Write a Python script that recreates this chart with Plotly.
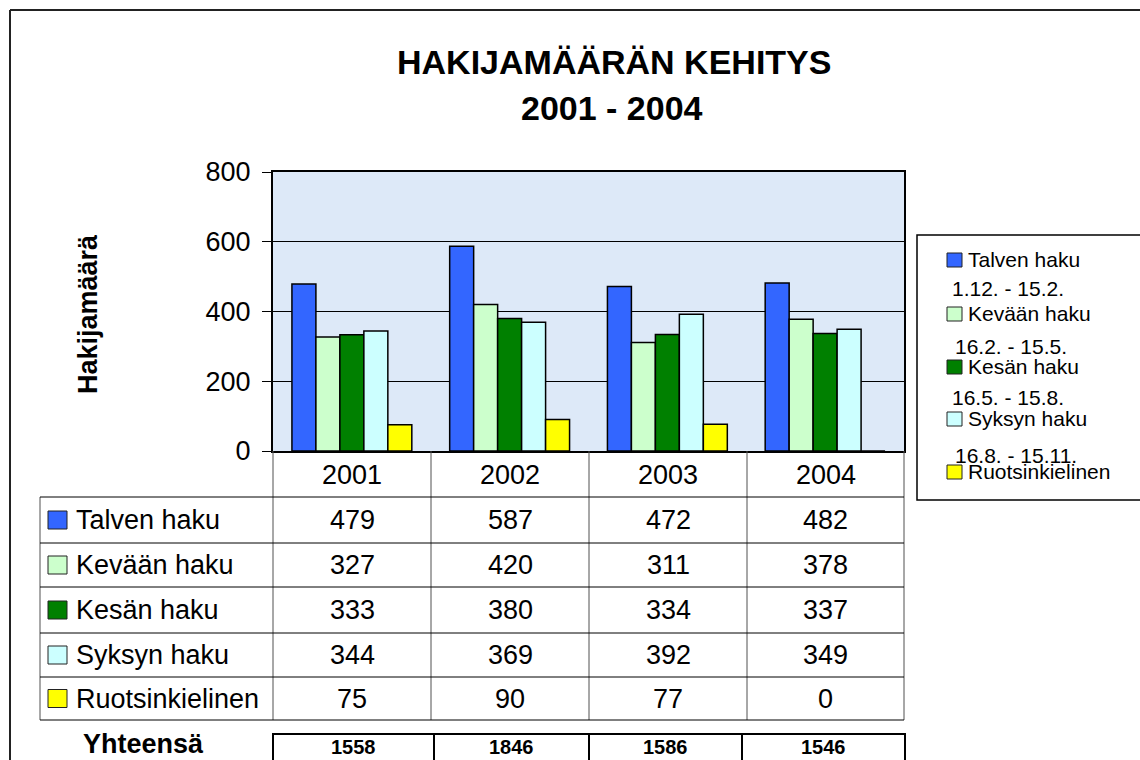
import plotly.graph_objects as go

W, H = 1140, 760

# ---------------- data ----------------
years = ["2001", "2002", "2003", "2004"]
series_names = ["Talven haku", "Kevään haku", "Kesän haku", "Syksyn haku", "Ruotsinkielinen"]
legend_periods = ["1.12. - 15.2.", "16.2. - 15.5.", "16.5. - 15.8.", "16.8. - 15.11.", ""]
talven = [479, 587, 472, 482]
kevaan = [327, 420, 311, 378]
kesan = [333, 380, 334, 337]
syksyn = [344, 369, 392, 349]
ruotsi = [75, 90, 77, 0]
totals = [1558, 1846, 1586, 1546]
y_ticks = [0, 200, 400, 600, 800]
colors = ["#3366FF", "#CCFFCC", "#008000", "#CCFFFF", "#FFFF00"]

series_values = [talven, kevaan, kesan, syksyn, ruotsi]

FONT = "Liberation Sans, Arial, sans-serif"


def px(x):
    return x / W


def py(y):
    return 1 - y / H


fig = go.Figure()
for name, vals, col in zip(series_names, series_values, colors):
    fig.add_trace(go.Bar(
        x=years, y=vals, name=name,
        marker=dict(color=col, line=dict(color="black", width=1.5)),
        showlegend=False,
    ))

shapes = []
annotations = []


def line(x0, y0, x1, y1, color="black", width=1):
    shapes.append(dict(type="line", xref="paper", yref="paper",
                       x0=px(x0), y0=py(y0), x1=px(x1), y1=py(y1),
                       line=dict(color=color, width=width), layer="above"))


def rect(x0, y0, x1, y1, fill, color="black", width=1):
    shapes.append(dict(type="rect", xref="paper", yref="paper",
                       x0=px(x0), y0=py(y0), x1=px(x1), y1=py(y1),
                       fillcolor=fill, line=dict(color=color, width=width), layer="above"))


def text(x, y, s, size, bold=False, xanchor="center"):
    if bold:
        s = "<b>" + s + "</b>"
    annotations.append(dict(xref="paper", yref="paper", x=px(x), y=py(y), text=s,
                            showarrow=False, xanchor=xanchor, yanchor="middle",
                            font=dict(family=FONT, size=size, color="black")))


# outer chart frame (top and left visible)
line(10, 10, 1141, 10, color="#222222", width=2)
line(10, 10, 10, 761, color="#222222", width=2)

# title
text(614, 62, "HAKIJAMÄÄRÄN KEHITYS", 34, bold=True)
text(612, 108, "2001 - 2004", 34, bold=True)

# y-axis title
annotations.append(dict(xref="paper", yref="paper", x=px(88), y=py(314),
                        text="<b>Hakijamäärä</b>", showarrow=False, textangle=-90,
                        xanchor="center", yanchor="middle",
                        font=dict(family=FONT, size=27, color="black")))

# ---------------- data table ----------------
col_edges = [273, 431, 589, 747, 904]
col_centers = [(col_edges[i] + col_edges[i + 1]) / 2 for i in range(4)]
row_edges = [497, 543, 587, 633, 677, 720]
row_centers = [(row_edges[i] + row_edges[i + 1]) / 2 for i in range(5)]

# header years
for c, yr in zip(col_centers, years):
    text(c, 475, yr, 27)

# grid lines
for x in col_edges:
    line(x, 451, x, 720, color="#505050", width=1)
line(40, 497, 40, 720, color="#505050", width=1)
for y in row_edges:
    line(40, y, 904, y, color="black", width=1)

# row labels with swatches and values
for r, (name, vals, col) in enumerate(zip(series_names, series_values, colors)):
    yc = row_centers[r]
    rect(48, yc - 9, 67, yc + 9, col, color="#222222", width=1)
    text(74, yc, name, 27, xanchor="left")
    for c, v in zip(col_centers, vals):
        text(c, yc, str(v), 27)

# totals row
text(143, 744, "Yhteensä", 27, bold=True)
tot_edges = [273, 434, 589, 742, 905]
rect(273, 734, 905, 765, "rgba(0,0,0,0)", color="black", width=2)
for x in tot_edges[1:-1]:
    line(x, 734, x, 765, color="black", width=2)
for i, t in enumerate(totals):
    text((tot_edges[i] + tot_edges[i + 1]) / 2, 747, str(t), 20, bold=True)

# ---------------- legend box ----------------
rect(917, 235, 1145, 500, "white", color="black", width=1.5)
leg_sw_y = [260, 314, 367, 419, 472]
leg_period_y = [288, 346, 397, 455]
leg_period_x = [950, 953, 950, 953]
for i, (name, col) in enumerate(zip(series_names, colors)):
    yc = leg_sw_y[i]
    rect(947, yc - 7, 962, yc + 7, col, color="#222222", width=1)
    text(966, yc - 1, name, 21, xanchor="left")
    if legend_periods[i]:
        text(leg_period_x[i], leg_period_y[i], legend_periods[i], 21, xanchor="left")

fig.update_layout(
    width=W, height=H,
    margin=dict(l=0, r=0, t=0, b=0, autoexpand=False),
    paper_bgcolor="white",
    plot_bgcolor="#DDE9F8",
    barmode="group",
    bargap=0.24,
    bargroupgap=0,
    shapes=shapes,
    annotations=annotations,
    font=dict(family=FONT, color="black"),
    xaxis=dict(
        domain=[px(273), px(904)],
        range=[-0.5, 3.5],
        showticklabels=False,
        ticks="",
        showline=True, linecolor="black", linewidth=2, mirror=True,
        showgrid=False, zeroline=False,
    ),
    yaxis=dict(
        domain=[py(451), py(172)],
        range=[0, 800],
        tickvals=y_ticks,
        ticks="outside", ticklen=9, tickcolor="black", tickwidth=1,
        ticklabelstandoff=6,
        tickfont=dict(family=FONT, size=27, color="black"),
        showline=True, linecolor="black", linewidth=2, mirror=True,
        showgrid=True, gridcolor="black", gridwidth=1,
        zeroline=False,
    ),
)

fig.write_html("out.html", config={"displayModeBar": False},
               post_script="document.body.style.margin='0';")
